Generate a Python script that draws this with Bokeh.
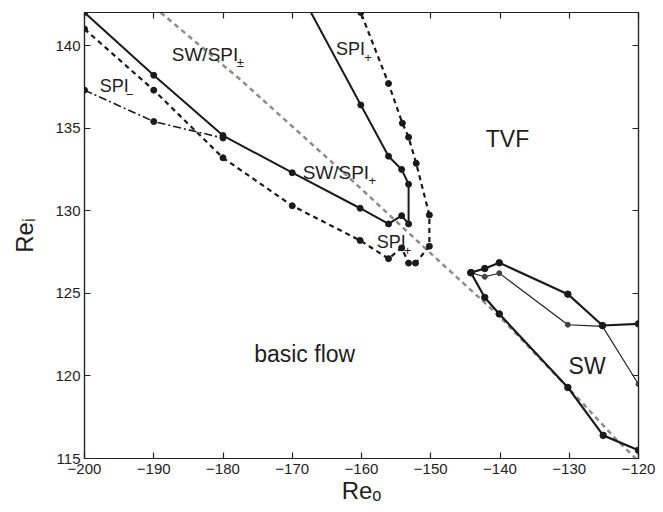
import math
from bokeh.plotting import figure
from bokeh.models import Range1d, LinearAxis, FixedTicker, Label
from bokeh.embed import file_html
from bokeh.resources import INLINE

# ---- data ----
x_ticks = [-200, -190, -180, -170, -160, -150, -140, -130, -120]
x_tick_labels = ["\u2212200", "\u2212190", "\u2212180", "\u2212170", "\u2212160",
                 "\u2212150", "\u2212140", "\u2212130", "\u2212120"]
y_ticks = [115, 120, 125, 130, 135, 140]
y_tick_labels = ["115", "120", "125", "130", "135", "140"]
x_title = "Re\u2092"
y_title = "Re\u1d62"

# SW/SPI+- boundary (solid)
solid_x = [-200, -190, -180, -170, -160.2, -156.1, -154.2, -153.2, -153.2, -154.2, -156.1, -160.1, -167.3]
solid_y = [142.0, 138.2, 134.55, 132.3, 130.15, 129.2, 129.7, 129.2, 131.6, 132.5, 133.3, 136.4, 142.0]

# SPI boundary (dashed)
dashed_x = [-200, -190, -180, -170, -160.2, -156.1, -154.2, -153.2, -152.2, -150.2, -150.2, -152.1, -153.2, -154.1, -156.1, -160.1]
dashed_y = [141.0, 137.3, 133.2, 130.3, 128.2, 127.1, 127.75, 126.83, 126.83, 127.85, 129.74, 132.87, 134.45, 135.3, 137.7, 142.0]

# SPI- boundary (dash-dot)
dashdot_x = [-200, -190, -180]
dashdot_y = [137.3, 135.4, 134.4]

# SW region
sw_upper_x = [-144.2, -142.2, -140.1, -130.2, -125.2, -120.0]
sw_upper_y = [126.25, 126.5, 126.85, 124.95, 123.05, 123.15]
sw_lower_x = [-144.2, -142.2, -140.1, -130.2, -125.1, -120.0]
sw_lower_y = [126.25, 124.75, 123.75, 119.3, 116.4, 115.5]
sw_thin_x = [-144.2, -142.2, -140.1, -130.2, -125.2, -120.0]
sw_thin_y = [126.25, 126.0, 126.22, 123.1, 123.0, 119.5]

# primary instability of basic flow (gray dashed)
gray_x = [-189.0, -177.4, -161.0, -149.7, -140.3, -128.4, -123.1, -120.4]
gray_y = [142.0, 137.9, 131.7, 127.3, 123.7, 118.5, 116.1, 115.0]

FONT = "Liberation Sans"
TXT = "#1e1e1e"

p = figure(width=663, height=512, output_backend="svg", toolbar_location=None,
           x_range=Range1d(-200, -120), y_range=Range1d(115, 142),
           min_border_left=84, min_border_right=25, min_border_top=12, min_border_bottom=54)
p.background_fill_color = "white"
p.border_fill_color = "white"
p.grid.visible = False
p.outline_line_color = "#222222"
p.outline_line_width = 1.2

bottom = p.below[0]
left = p.left[0]


def style_axis(ax, ticks, labels, show_labels=True, standoff=5):
    ax.ticker = FixedTicker(ticks=ticks)
    ax.major_tick_in = 6
    ax.major_tick_out = 0
    ax.minor_tick_line_color = None
    ax.axis_line_color = "#222222"
    ax.axis_line_width = 1.2
    ax.major_tick_line_color = "#222222"
    ax.major_tick_line_width = 1.2
    ax.major_label_text_font = FONT
    ax.major_label_text_color = TXT
    ax.major_label_text_font_size = "15px"
    if show_labels:
        ax.major_label_overrides = {t: l for t, l in zip(ticks, labels)}
        ax.major_label_standoff = standoff
    else:
        ax.major_label_overrides = {t: "" for t in ticks}
        ax.major_label_standoff = 0


style_axis(bottom, x_ticks, x_tick_labels, True, 5)
style_axis(left, y_ticks, y_tick_labels, True, 4)
top = LinearAxis()
right = LinearAxis()
p.add_layout(top, "above")
p.add_layout(right, "right")
style_axis(top, x_ticks, x_tick_labels, False)
style_axis(right, y_ticks, y_tick_labels, False)

for ax, so in ((bottom, 0), (left, 14)):
    ax.axis_label_text_font = FONT
    ax.axis_label_text_font_style = "normal"
    ax.axis_label_text_font_size = "24px"
    ax.axis_label_text_color = TXT
    ax.axis_label_standoff = so
bottom.axis_label = x_title
left.axis_label = y_title

# gray dashed curve
p.line(gray_x, gray_y, line_color="#8c8c8c", line_width=2.5, line_dash="5 4")

# dash-dot
p.line(dashdot_x, dashdot_y, line_color="#1a1a1a", line_width=1.6, line_dash="8 3 2 3")
p.scatter(dashdot_x, dashdot_y, size=6, color="#1a1a1a")

# dashed
p.line(dashed_x, dashed_y, line_color="#1a1a1a", line_width=2.2, line_dash="5 4")
p.scatter(dashed_x, dashed_y, size=6, color="#1a1a1a")

# solid
p.line(solid_x, solid_y, line_color="#1a1a1a", line_width=2.0)
p.scatter(solid_x[:-1], solid_y[:-1], size=6, color="#1a1a1a")

# SW
p.line(sw_thin_x, sw_thin_y, line_color="#1a1a1a", line_width=1.1)
p.scatter(sw_thin_x, sw_thin_y, size=5, color="#444444")
p.line(sw_upper_x, sw_upper_y, line_color="#1a1a1a", line_width=2.2)
p.scatter(sw_upper_x, sw_upper_y, size=6.5, color="#1a1a1a")
p.line(sw_lower_x, sw_lower_y, line_color="#1a1a1a", line_width=2.2)
p.scatter(sw_lower_x, sw_lower_y, size=6.5, color="#1a1a1a")


def lab(x, y, text, size, angle=0.0):
    p.add_layout(Label(x=x, y=y, text=text, text_font=FONT, text_font_size=size,
                       text_color=TXT, text_align="left", text_baseline="alphabetic",
                       angle=angle))


# region labels
lab(-187.4, 139.43, "SW/SPI", "19px")
lab(-178.0, 138.95, "\u00b1", "13px")
lab(-197.8, 137.54, "SPI", "18px")
lab(-194.0, 137.05, "\u2212", "13px")
lab(-163.7, 139.78, "SPI", "18px")
lab(-159.6, 139.25, "+", "13px")
lab(-168.5, 132.32, "SW/SPI", "19px")
lab(-159.0, 131.8, "+", "13px")
lab(-157.8, 128.1, "SPI", "18px")
lab(-153.9, 127.6, "+", "13px")
lab(-142.05, 134.35, "TVF", "23px")
lab(-175.5, 121.35, "basic flow", "23px")
lab(-130.1, 120.63, "SW", "23px")

open("out.html", "w").write(file_html(p, INLINE))
